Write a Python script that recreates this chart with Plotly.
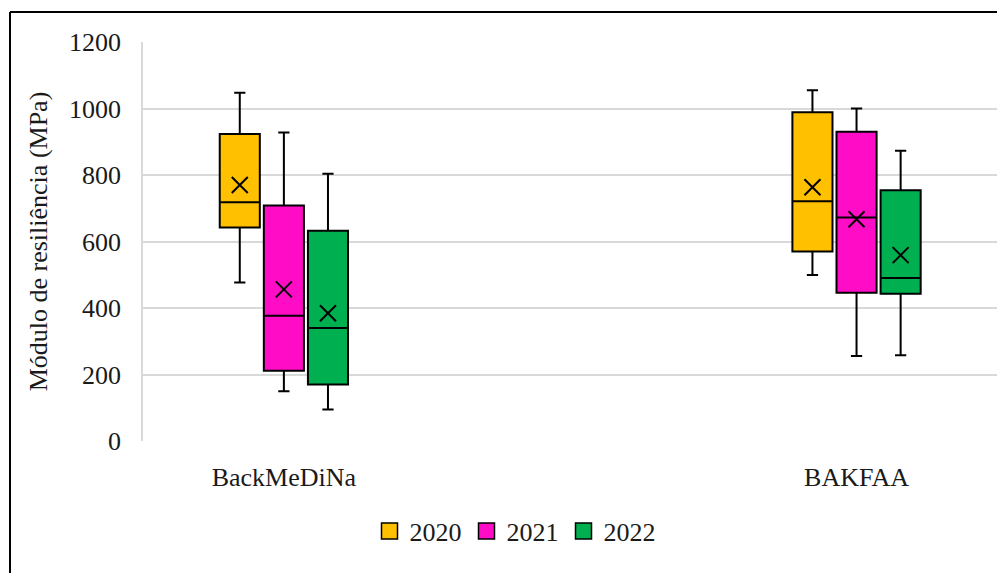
import plotly.graph_objects as go

categories = ["BackMeDiNa", "BAKFAA"]
years = ["2020", "2021", "2022"]
colors = ["#FFC000", "#FF0DC6", "#00B050"]

# per year: values for [BackMeDiNa, BAKFAA]
lower = {"2020": [477, 499], "2021": [150, 256], "2022": [95, 258]}
q1 = {"2020": [642, 570], "2021": [211, 446], "2022": [170, 443]}
median = {"2020": [718, 721], "2021": [377, 672], "2022": [340, 490]}
q3 = {"2020": [923, 989], "2021": [708, 930], "2022": [632, 754]}
upper = {"2020": [1047, 1055], "2021": [928, 1000], "2022": [804, 873]}
mean = {"2020": [770, 763], "2021": [456, 667], "2022": [384, 559]}

y_ticks = [0, 200, 400, 600, 800, 1000, 1200]

offset_step = 0.077
box_width = 0.070
FONT = "Liberation Serif"
TXT = "#1a1a1a"

fig = go.Figure()
for k, yr in enumerate(years):
    off = (k - 1) * offset_step
    xs = [i + off for i in range(len(categories))]
    fig.add_trace(go.Box(
        x=xs, q1=q1[yr], median=median[yr], q3=q3[yr],
        lowerfence=lower[yr], upperfence=upper[yr],
        width=box_width, whiskerwidth=0.28,
        fillcolor=colors[k], line=dict(color="black", width=2),
        name=yr, boxpoints=False, hoverinfo="skip", showlegend=False,
    ))
    fig.add_trace(go.Scatter(
        x=xs, y=mean[yr], mode="markers", showlegend=False,
        marker=dict(symbol="x-thin", size=16, line=dict(color="black", width=2)),
        hoverinfo="skip",
    ))
    # legend entry (square swatch)
    fig.add_trace(go.Scatter(
        x=[None], y=[None], mode="markers", name=yr,
        marker=dict(symbol="square", size=19, color=colors[k],
                    line=dict(color="black", width=1.5)),
    ))

# page body has an 8px margin; screen px = figure px + 8
OFF = 8
W, H = 997, 565
L, R, T, B = 135, 3, 34, 132
pw, ph = W - L - R, H - T - B

def px_x(p):
    return (p - OFF - L) / pw

def px_y(p):
    return (H - B - (p - OFF)) / ph

fig.add_shape(type="line", xref="paper", yref="paper",
              x0=px_x(10), x1=px_x(10), y0=px_y(12), y1=px_y(H + 20),
              line=dict(color="black", width=2))
fig.add_shape(type="line", xref="paper", yref="paper",
              x0=px_x(10), x1=px_x(W + 20), y0=px_y(12), y1=px_y(12),
              line=dict(color="black", width=2))

fig.update_layout(
    width=W, height=H,
    margin=dict(l=L, r=R, t=T, b=B),
    paper_bgcolor="white", plot_bgcolor="white",
    font=dict(family=FONT, size=24, color=TXT),
    showlegend=True,
    legend=dict(orientation="h", x=px_x(515), xanchor="center",
                y=px_y(531), yanchor="middle",
                font=dict(family=FONT, size=26, color=TXT),
                itemwidth=30, tracegroupgap=0),
    xaxis=dict(range=[-0.246, 1.254], tickmode="array",
               tickvals=list(range(len(categories))), ticktext=categories,
               showgrid=False, zeroline=False, showline=False,
               ticks="", ticklabelstandoff=18,
               tickfont=dict(family=FONT, size=26, color=TXT)),
    yaxis=dict(range=[0, 1200], tickmode="array", tickvals=y_ticks,
               showgrid=True, gridcolor="#d9d9d9", gridwidth=1.5,
               zeroline=False, showline=True, linecolor="#d9d9d9", linewidth=1.5,
               ticks="", ticklabelstandoff=15,
               tickfont=dict(family=FONT, size=26, color=TXT),
               title=dict(text="Módulo de resiliência (MPa)", standoff=14,
                          font=dict(family=FONT, size=26, color=TXT))),
)

fig.write_html("out.html")
